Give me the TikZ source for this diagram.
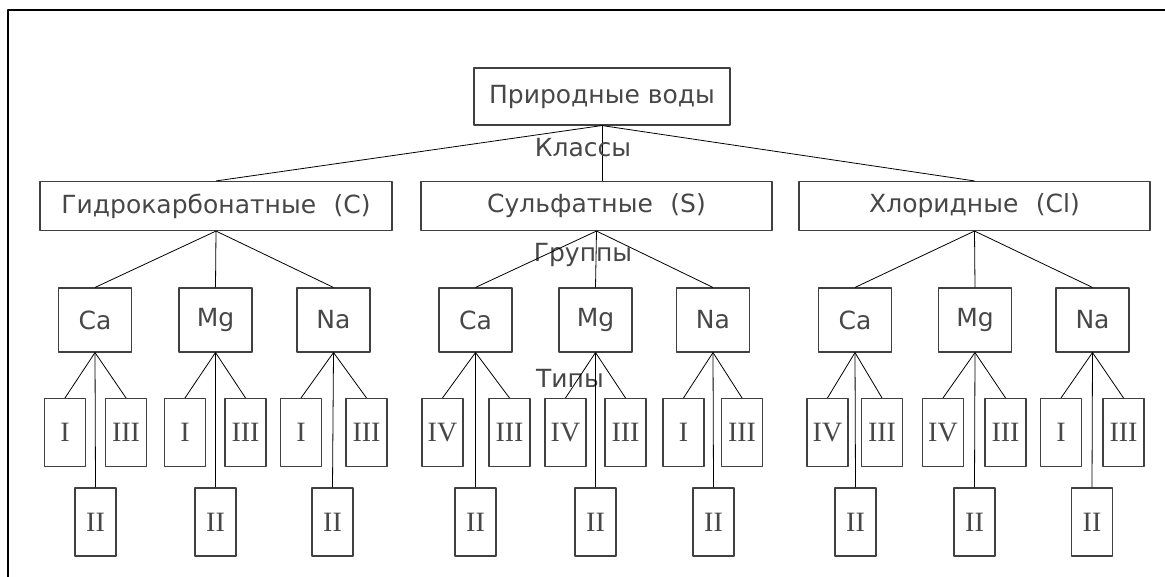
\documentclass[tikz,border=0pt]{standalone}
\usepackage{fontspec}
\newfontfamily\cadfont{DejaVu Sans}
\newfontfamily\romfont{Liberation Serif}
\usepackage{tikz}
\usetikzlibrary{calc}
\tikzset{box/.style={draw=black!75,line width=1.1pt,inner sep=0pt,text=black!72,font=\cadfont\fontsize{25}{25}\selectfont},
  clsbox/.style={box,minimum width=352pt,minimum height=49pt},
  grpbox/.style={box,minimum width=73pt,minimum height=64pt},
  typbox/.style={box,minimum width=41pt,minimum height=68pt,font=\romfont\fontsize{28}{28}\selectfont},
  lvl/.style={inner sep=0pt,text=black!72,font=\cadfont\fontsize{25}{25}\selectfont},
  link/.style={line width=0.8pt}}

\begin{document}
\begin{tikzpicture}[x=1pt,y=-1pt,line join=round]
\useasboundingbox (0,0) rectangle (1165,577);
% --- frame (top and left edges only)
\draw[line width=2pt] (1165,10) -- (8,10) -- (8,577);
% --- root and classes
\node[box,minimum width=256pt,minimum height=57pt] (root) at (602,96.5) {Природные воды};
\node[clsbox] (C) at (216,206) {Гидрокарбонатные\hspace{0.7em}(С)};
\node[clsbox,minimum width=351pt] (S) at (596.5,206) {Сульфатные\hspace{0.7em}(S)};
\node[clsbox,minimum width=351pt] (Cl) at (974.5,206) {Хлоридные\hspace{0.7em}(Cl)};
\draw[link] (root.south) -- (C.north); \draw[link] (root.south) -- (root.south |- S.north); \draw[link] (root.south) -- (Cl.north);
\node[lvl] (klassy) at (583,148) {Классы};
\node[lvl] (gruppy) at (583,255) {Группы};
\node[lvl] (tipy) at (570,378) {Типы};
% --- groups and types
\foreach \n/\g/\x/\t/\l/\r/\m in {C/Ca/95/I/65/126/95.5, C/Mg/215.5/I/185/245.5/215.5, C/Na/333.5/I/301/366.5/332.5,
    S/Ca/475.5/IV/442.5/509.5/475.5, S/Mg/595.5/IV/565.5/625.5/595.5, S/Na/713/I/683.5/742/713.5,
    Cl/Ca/855/IV/827.5/882/855.5, Cl/Mg/975/IV/943/1005.5/974.5, Cl/Na/1092.5/I/1061/1123.5/1092} {
  \node[grpbox] (\n-\g) at (\x,320) {\g};
  \draw[link] (\n.south) -- (\n-\g.north);
  \node[typbox] (\n-\g-a) at (\l,432.5) {\t};
  \node[typbox] (\n-\g-c) at (\r,432.5) {III};
  \node[typbox] (\n-\g-b) at (\m,522) {II};
  \draw[link] (\n-\g.south) -- (\n-\g-a.north); \draw[link] (\n-\g.south) -- (\n-\g-c.north);
  \draw[link] (\n-\g.south) -- (\n-\g-b.north);
}
\end{tikzpicture}
\end{document}
